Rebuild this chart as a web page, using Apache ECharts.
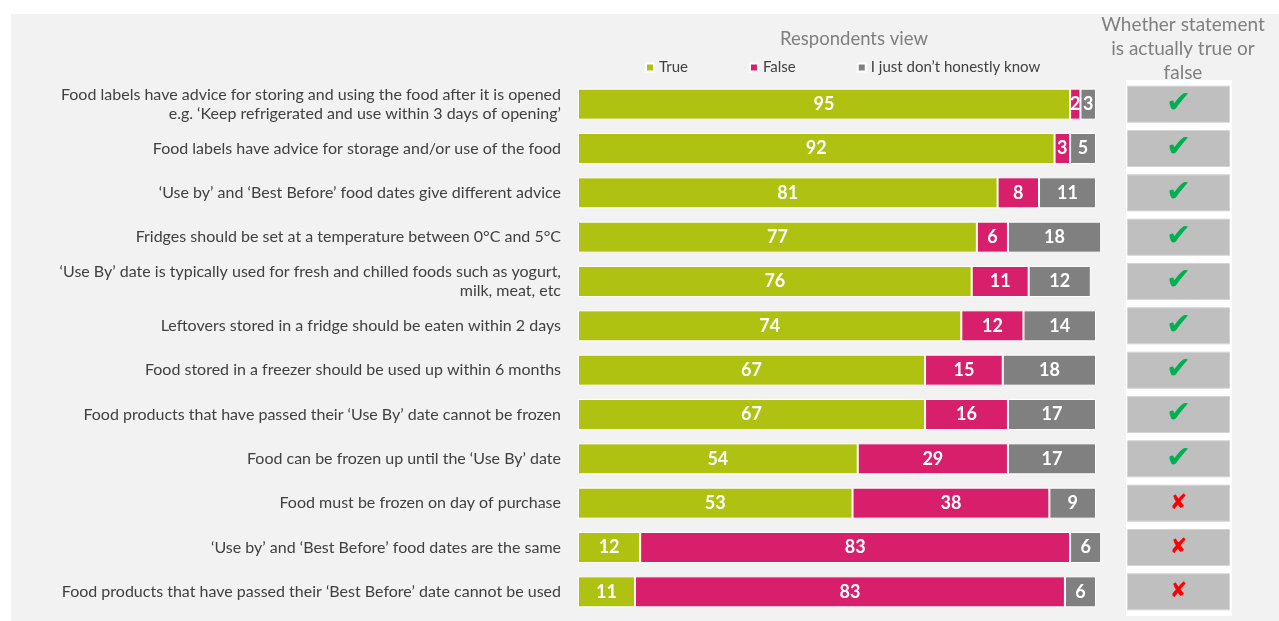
<!DOCTYPE html>
<html>
<head>
<meta charset="utf-8">
<script src="https://cdn.jsdelivr.net/npm/echarts@6/dist/echarts.min.js"></script>
<style>
  html, body { margin: 0; padding: 0; background: #ffffff; }
  #panel { position: absolute; left: 11px; top: 14px; width: 1268px; height: 607px; background: #f2f2f2; }
  #checkPanel { position: absolute; left: 1126px; top: 80px; width: 106px; height: 536px; background: #ffffff; }
  #chart { position: absolute; left: 0; top: 0; width: 1279px; height: 621px; }
</style>
</head>
<body>
<div id="panel"></div>
<div id="checkPanel"></div>
<div id="chart"></div>
<script>
// Statements, top to bottom
const statements = [
  "Food labels have advice for storing and using the food after it is opened\ne.g. \u2018Keep refrigerated and use within 3 days of opening\u2019",
  "Food labels have advice for storage and/or use of the food",
  "\u2018Use by\u2019 and \u2018Best Before\u2019 food dates give different advice",
  "Fridges should be set at a temperature between 0\u00b0C and 5\u00b0C",
  "\u2018Use By\u2019 date is typically used for fresh and chilled foods such as yogurt,\nmilk, meat, etc",
  "Leftovers stored in a fridge should be eaten within 2 days",
  "Food stored in a freezer should be used up within 6 months",
  "Food products that have passed their \u2018Use By\u2019 date cannot be frozen",
  "Food can be frozen up until the \u2018Use By\u2019 date",
  "Food must be frozen on day of purchase",
  "\u2018Use by\u2019 and \u2018Best Before\u2019 food dates are the same",
  "Food products that have passed their \u2018Best Before\u2019 date cannot be used"
];

// Respondents' answers, %
const trueVals  = [95, 92, 81, 77, 76, 74, 67, 67, 54, 53, 12, 11];
const falseVals = [2, 3, 8, 6, 11, 12, 15, 16, 29, 38, 83, 83];
const dkVals    = [3, 5, 11, 18, 12, 14, 18, 17, 17, 9, 6, 6];

// Whether each statement is actually true
const actuallyTrue = [true, true, true, true, true, true, true, true, true, false, false, false];

const seriesNames = ["True", "False", "I just don\u2019t honestly know"];
const seriesColors = ["#afc212", "#d81f6c", "#808080"];

const chart = echarts.init(document.getElementById("chart"), null, { renderer: "canvas" });

const barLabel = {
  show: true,
  position: "inside",
  color: "#ffffff",
  fontFamily: "Lato",
  fontWeight: "bold",
  fontSize: 18
};

function stackSeries(name, values, color) {
  return {
    name: name,
    type: "bar",
    stack: "answers",
    xAxisIndex: 0,
    yAxisIndex: 0,
    data: values,
    barWidth: 31,
    clip: false,
    itemStyle: { color: color, borderColor: "#ffffff", borderWidth: 1 },
    label: barLabel,
    emphasis: { disabled: true }
  };
}

chart.setOption({
  backgroundColor: "transparent",
  animation: false,
  textStyle: { fontFamily: "Lato" },
  title: [
    {
      text: "Respondents view",
      left: 849, top: 25, textAlign: "center",
      textStyle: { fontFamily: "Lato", fontSize: 18.5, fontWeight: "normal", color: "#7f7f7f" }
    },
    {
      text: "Whether statement\nis actually true or\nfalse",
      left: 1178, top: 8, textAlign: "center",
      textStyle: { fontFamily: "Lato", fontSize: 19, fontWeight: "normal", color: "#7f7f7f", lineHeight: 24 }
    }
  ],
  legend: {
    data: seriesNames,
    left: 640, top: 55,
    icon: "rect",
    itemWidth: 8, itemHeight: 8,
    itemGap: 61,
    textStyle: { fontFamily: "Lato", fontSize: 15, color: "#404040" },
    selectedMode: false
  },
  grid: [
    { left: 578, right: 183, top: 82, bottom: 7, containLabel: false },
    { left: 1127, width: 103, top: 82, bottom: 7, containLabel: false }
  ],
  xAxis: [
    { type: "value", gridIndex: 0, min: 0, max: 100, show: false },
    { type: "value", gridIndex: 1, min: 0, max: 1, show: false }
  ],
  yAxis: [
    {
      type: "category", gridIndex: 0, inverse: true, data: statements,
      axisLine: { show: false }, axisTick: { show: false },
      axisLabel: {
        margin: 17, align: "right", fontFamily: "Lato", fontSize: 16,
        color: "#404040", lineHeight: 19, padding: [0, 0, 4, 0]
      }
    },
    {
      type: "category", gridIndex: 1, inverse: true, data: statements, show: false
    }
  ],
  series: [
    stackSeries(seriesNames[0], trueVals, seriesColors[0]),
    stackSeries(seriesNames[1], falseVals, seriesColors[1]),
    stackSeries(seriesNames[2], dkVals, seriesColors[2]),
    {
      name: "actual",
      type: "bar",
      xAxisIndex: 1,
      yAxisIndex: 1,
      barWidth: 37,
      data: actuallyTrue.map(v => ({ value: 1, isTrue: v })),
      itemStyle: { color: "#bfbfbf", borderColor: "#d4d4d4", borderWidth: 1 },
      label: {
        show: true,
        position: "inside",
        fontFamily: "DejaVu Sans",
        formatter: p => actuallyTrue[p.dataIndex] ? "{ok|\u2714}" : "{no|\u2718}",
        rich: {
          ok: { color: "#00b050", fontSize: 30, fontFamily: "DejaVu Sans" },
          no: { color: "#ff0000", fontSize: 21, fontFamily: "DejaVu Sans" }
        }
      },
      emphasis: { disabled: true }
    }
  ]
});
</script>
</body>
</html>
